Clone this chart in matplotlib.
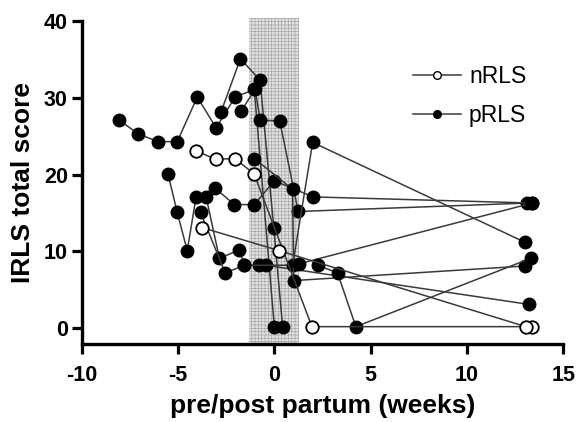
import matplotlib
matplotlib.use("Agg")
import matplotlib.pyplot as plt

# nRLS subjects (open circles)
n1_x = [-4.05, -3.05, -2.05, -1.05, 1.95, 13.35]
n1_y = [23.1, 22.0, 22.1, 20.1, 0.2, 0.2]
n2_x = [-3.75, 0.25, 13.05]
n2_y = [13.1, 10.1, 0.2]

# pRLS subjects (filled circles)
p1_x = [-8.05, -7.06, -6.03, -5.04, -4.0, -3.02, -2.04, -1.04, 0.0]
p1_y = [27.1, 25.3, 24.3, 24.3, 30.1, 26.1, 30.1, 31.1, 0.2]
p2_x = [-2.76, -1.76, -0.74, -0.03, 0.43]
p2_y = [28.2, 35.1, 32.3, 13.1, 0.2]
p3_x = [-1.72, -1.0, -0.73, 0.28, 1.24, 13.13]
p3_y = [28.3, 31.1, 27.1, 27.0, 15.2, 16.3]
p4_x = [-5.52, -5.04, -4.52, -4.06, -3.06, -2.07, -1.04, 0.0, 2.02, 13.39]
p4_y = [20.1, 15.1, 10.1, 17.1, 18.2, 16.1, 16.1, 19.2, 17.1, 16.3]
p5_x = [-3.54, -2.85, -1.81, -1.55, -0.78, -0.43, 13.21]
p5_y = [17.1, 9.1, 10.2, 8.2, 8.2, 8.2, 3.1]
p6_x = [-3.83, -2.55, -1.55, 0.95, 1.99, 13.0]
p6_y = [15.1, 7.2, 8.2, 8.2, 24.2, 11.2]
p7_x = [-1.04, 0.95, 1.0, 12.99]
p7_y = [22.1, 18.1, 6.2, 8.1]
p8_x = [1.3, 13.39]
p8_y = [8.4, 16.3]
p9_x = [2.25, 3.28, 4.23, 13.3]
p9_y = [8.2, 7.2, 0.2, 9.1]

nrls = [(n1_x, n1_y), (n2_x, n2_y)]
prls = [(p1_x, p1_y), (p2_x, p2_y), (p3_x, p3_y), (p4_x, p4_y), (p5_x, p5_y),
        (p6_x, p6_y), (p7_x, p7_y), (p8_x, p8_y), (p9_x, p9_y)]

plt.rcParams['font.family'] = ['Liberation Sans', 'DejaVu Sans']
plt.rcParams['axes.unicode_minus'] = False
plt.rcParams['hatch.linewidth'] = 0.5
plt.rcParams['hatch.color'] = '#a8a8a8'

fig = plt.figure(figsize=(5.79, 4.22), dpi=100)
ax = fig.add_axes([0.141, 0.185, 0.832, 0.765])

# delivery window shading
ax.axvspan(-1.3, 1.3, ymin=0, ymax=1.01, facecolor='#e2e2e2', edgecolor='#a8a8a8',
           hatch='+++++', linewidth=0, zorder=0, clip_on=False)

line_col = '#3a3a3a'
for xs, ys in prls:
    ax.plot(xs, ys, '-o', color=line_col, lw=1.1, mfc='black', mec='black', ms=9, zorder=2)
for xs, ys in nrls:
    ax.plot(xs, ys, '-o', color=line_col, lw=1.1, mfc='white', mec='black', mew=1.3, ms=9, zorder=3)

# legend handles
h1, = ax.plot([], [], '-o', color=line_col, lw=1.1, mfc='white', mec='black', ms=5.5)
h2, = ax.plot([], [], '-o', color=line_col, lw=1.1, mfc='black', mec='black', ms=5.5)
fig.legend([h1, h2], ['nRLS', 'pRLS'], loc='upper left', bbox_to_anchor=(0.713, 0.845),
           frameon=False, fontsize=16.5, handlelength=2.1, handletextpad=0.35,
           labelspacing=0.7, borderpad=0, borderaxespad=0)

ax.set_xlim(-10, 15)
ax.set_ylim(-2.05, 40)
ax.set_xticks([-10, -5, 0, 5, 10, 15])
ax.set_yticks([0, 10, 20, 30, 40])
for sp in ['top', 'right']:
    ax.spines[sp].set_visible(False)
for sp in ['left', 'bottom']:
    ax.spines[sp].set_linewidth(2.4)
ax.tick_params(direction='out', length=7, width=2.3, labelsize=15.5)
ax.tick_params(axis='x', pad=8)
ax.tick_params(axis='y', pad=3)
for lab in ax.get_xticklabels() + ax.get_yticklabels():
    lab.set_fontweight('bold')
ax.set_xlabel('pre/post partum (weeks)', fontsize=19, fontweight='bold', labelpad=6)
ax.set_ylabel('IRLS total score', fontsize=19, fontweight='bold', labelpad=6)

fig.savefig('out.png', dpi=100)
